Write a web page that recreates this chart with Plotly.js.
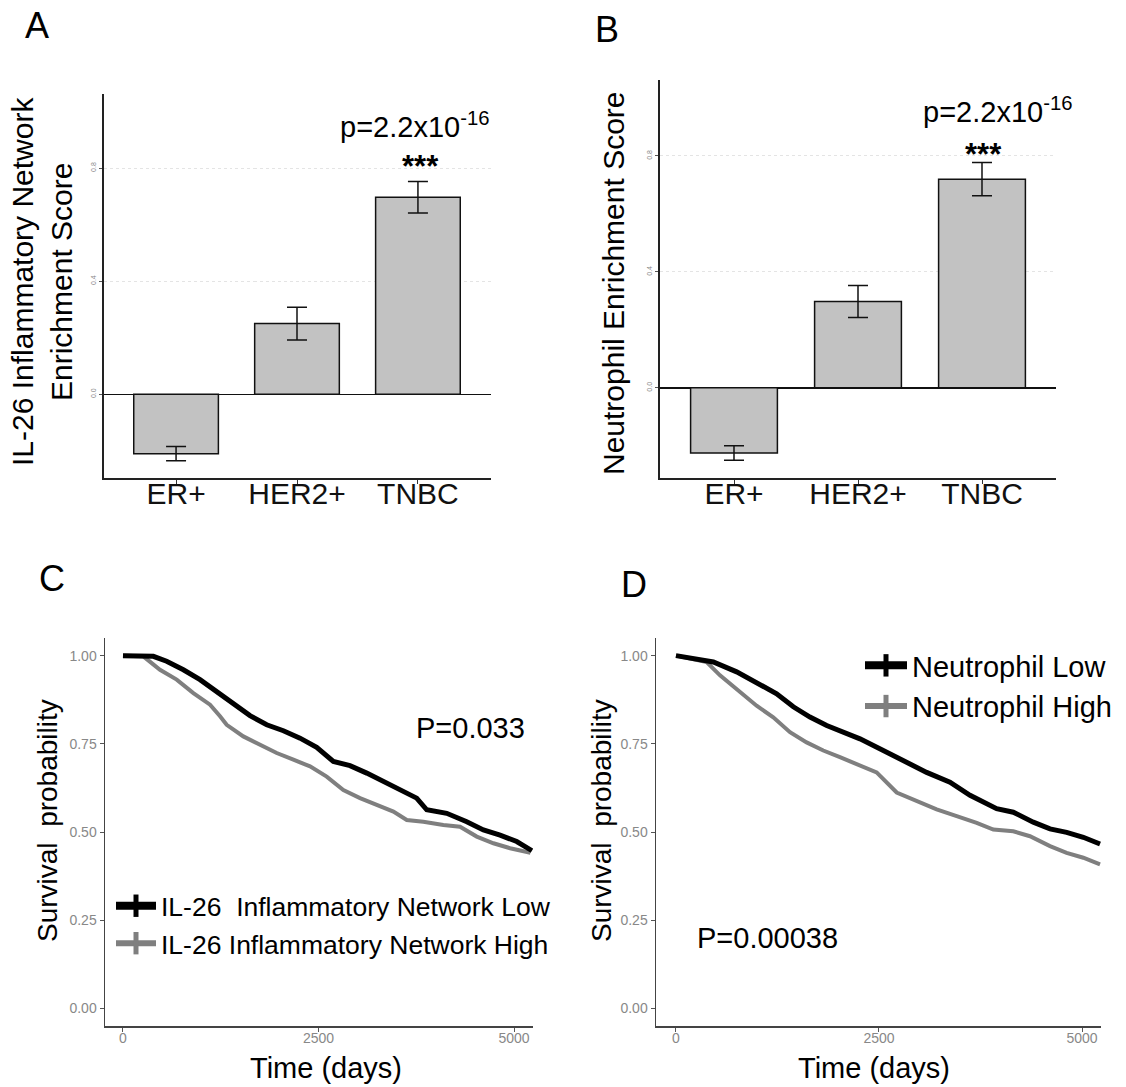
<!DOCTYPE html>
<html><head><meta charset="utf-8">
<script src="https://cdn.plot.ly/plotly-3.0.1.min.js"></script>
<style>html,body{margin:0;padding:0;background:#fff}#chart{width:1126px;height:1087px}</style>
</head><body><div id="chart"></div>
<script>
// ---- Data: panels A & B (bar charts) ----
const categories = ['ER+', 'HER2+', 'TNBC'];
const il26Score = [-0.21, 0.25, 0.697];
const il26Err = [0.025, 0.058, 0.056];
const neutroScore = [-0.225, 0.298, 0.72];
const neutroErr = [0.025, 0.055, 0.057];
const barTickVals = [0, 0.4, 0.8];
const barTickText = ['0.0', '0.4', '0.8'];

// ---- Data: panel C (IL-26 network survival) ----
const timeLowC = [0, 388, 558, 772, 985, 1198, 1411, 1624, 1838, 2051, 2264, 2477, 2690, 2903, 3117, 3330, 3543, 3756, 3884, 4140, 4396, 4609, 4822, 5035, 5230];
const survLowC = [1.0, 0.998, 0.984, 0.960, 0.932, 0.899, 0.866, 0.830, 0.804, 0.787, 0.766, 0.740, 0.700, 0.688, 0.667, 0.643, 0.621, 0.596, 0.563, 0.553, 0.529, 0.506, 0.491, 0.473, 0.447];
const timeHighC = [0, 260, 473, 687, 900, 1113, 1241, 1326, 1539, 1752, 1966, 2179, 2392, 2605, 2818, 3031, 3245, 3458, 3629, 3841, 4097, 4310, 4524, 4737, 4950, 5210];
const survHighC = [1.0, 0.998, 0.960, 0.932, 0.894, 0.861, 0.828, 0.804, 0.771, 0.747, 0.724, 0.705, 0.686, 0.657, 0.619, 0.596, 0.577, 0.558, 0.534, 0.529, 0.520, 0.515, 0.487, 0.468, 0.454, 0.441];

// ---- Data: panel D (Neutrophil survival) ----
const timeLowD = [0, 460, 747, 993, 1240, 1445, 1650, 1856, 2061, 2266, 2553, 2841, 3087, 3374, 3621, 3949, 4154, 4400, 4606, 4811, 5016, 5222];
const survLowD = [1.0, 0.982, 0.954, 0.925, 0.892, 0.855, 0.826, 0.802, 0.783, 0.764, 0.731, 0.698, 0.669, 0.641, 0.604, 0.566, 0.556, 0.528, 0.509, 0.499, 0.485, 0.466];
const timeHighD = [0, 378, 542, 788, 993, 1198, 1404, 1609, 1814, 2019, 2225, 2471, 2718, 2964, 3210, 3457, 3703, 3908, 4154, 4359, 4606, 4811, 5016, 5222];
const survHighD = [1.0, 0.982, 0.944, 0.897, 0.858, 0.825, 0.783, 0.754, 0.731, 0.712, 0.692, 0.669, 0.612, 0.588, 0.564, 0.545, 0.526, 0.507, 0.502, 0.488, 0.460, 0.441, 0.427, 0.408];

const survTickVals = [0, 0.25, 0.5, 0.75, 1.0];
const survTickText = ['0.00', '0.25', '0.50', '0.75', '1.00'];
const timeTickVals = [0, 2500, 5000];
const legendC = ['IL-26  Inflammatory Network Low', 'IL-26 Inflammatory Network High'];
const legendD = ['Neutrophil Low', 'Neutrophil High'];

// ---- Layout helpers (pixel -> paper) ----
const W = 1126, H = 1087;
const fx = v => v / W;
const fy = v => 1 - v / H;
const FONT = 'Liberation Sans, Arial, Helvetica, sans-serif';

function barTrace(vals, errs, xa, ya) {
  return {
    type: 'bar', x: categories, y: vals, width: 0.7,
    xaxis: xa, yaxis: ya, showlegend: false,
    marker: {color: '#c2c2c2', line: {color: '#111', width: 1.5}},
    error_y: {type: 'data', array: errs, visible: true, color: '#111', thickness: 1.5, width: 10}
  };
}
function curve(t, s, color, width, xa, ya) {
  return {type: 'scatter', mode: 'lines', x: t, y: s, xaxis: xa, yaxis: ya, showlegend: false,
    line: {color: color, width: width}, hoverinfo: 'skip'};
}
function legendItem(name, color, lw, leg) {
  return {type: 'scatter', mode: 'lines+markers', x: [null], y: [null], name: name, legend: leg,
    xaxis: leg === 'legend' ? 'x3' : 'x4', yaxis: leg === 'legend' ? 'y3' : 'y4',
    line: {color: color, width: lw},
    marker: {symbol: 'line-ns', size: 16, color: color, line: {color: color, width: 5}}};
}

const data = [
  barTrace(il26Score, il26Err, 'x', 'y'),
  barTrace(neutroScore, neutroErr, 'x2', 'y2'),
  curve(timeHighC, survHighC, '#7f7f7f', 4, 'x3', 'y3'),
  curve(timeLowC, survLowC, '#000', 5, 'x3', 'y3'),
  curve(timeHighD, survHighD, '#7f7f7f', 4, 'x4', 'y4'),
  curve(timeLowD, survLowD, '#000', 5, 'x4', 'y4'),
  legendItem(legendC[0], '#000', 8, 'legend'),
  legendItem(legendC[1], '#7f7f7f', 6, 'legend'),
  legendItem(legendD[0], '#000', 8, 'legend2'),
  legendItem(legendD[1], '#7f7f7f', 6, 'legend2')
];

function barX(d0, d1, anchor) {
  return {domain: [fx(d0), fx(d1)], anchor: anchor, type: 'category', range: [-0.6, 2.6],
    showline: true, linecolor: '#222', linewidth: 1.5, ticks: 'outside', ticklen: 4, tickcolor: '#333',
    ticklabelstandoff: -16,
    tickfont: {size: 30, color: '#111', family: FONT}, showgrid: false, zeroline: false, fixedrange: true};
}
function barY(t, b, range, anchor) {
  return {domain: [fy(b), fy(t)], anchor: anchor, range: range,
    tickvals: barTickVals, ticktext: barTickText, tickangle: -90,
    tickfont: {size: 7, color: '#888', family: FONT}, ticks: 'outside', ticklen: 3, tickcolor: '#555',
    showgrid: true, gridcolor: '#e4e4e4', griddash: 'dot', gridwidth: 1,
    zeroline: true, zerolinecolor: '#111', zerolinewidth: 1.5,
    showline: true, linecolor: '#222', linewidth: 1.5, fixedrange: true};
}
function survX(d0, d1, range, anchor) {
  return {domain: [fx(d0), fx(d1)], anchor: anchor, range: range, tickvals: timeTickVals,
    ticks: 'outside', ticklen: 4, tickcolor: '#555', tickfont: {size: 14, color: '#888', family: FONT},
    ticklabelstandoff: -5,
    showline: true, linecolor: '#444', linewidth: 1.5, showgrid: false, zeroline: false};
}
function survY(anchor) {
  return {domain: [fy(1026), fy(638)], anchor: anchor, range: [-0.05, 1.05],
    tickvals: survTickVals, ticktext: survTickText,
    ticks: 'outside', ticklen: 4, tickcolor: '#555', tickfont: {size: 14, color: '#888', family: FONT},
    showline: true, linecolor: '#444', linewidth: 1.5, showgrid: false, zeroline: false};
}

function ann(text, x, y, size, opts) {
  return Object.assign({text: text, x: fx(x), y: fy(y), xref: 'paper', yref: 'paper', showarrow: false,
    xanchor: 'center', yanchor: 'middle', font: {size: size, color: '#000', family: FONT}}, opts || {});
}

const layout = {
  width: W, height: H, margin: {l: 0, r: 0, t: 0, b: 0},
  paper_bgcolor: '#fff', plot_bgcolor: 'rgba(0,0,0,0)',
  font: {family: FONT, color: '#000'},
  showlegend: true, bargap: 0.3,
  xaxis: barX(103.5, 490.5, 'y'),
  yaxis: barY(94, 478, [-0.296, 1.062], 'x'),
  xaxis2: barX(659.6, 1056.4, 'y2'),
  yaxis2: barY(80, 478, [-0.311, 1.062], 'x2'),
  xaxis3: survX(105, 533, [-230, 5243], 'y3'),
  yaxis3: survY('x3'),
  xaxis4: survX(656, 1101, [-246, 5234], 'y4'),
  yaxis4: survY('x4'),
  legend: {x: fx(111), xanchor: 'left', y: fy(924.5), yanchor: 'middle', bgcolor: 'rgba(0,0,0,0)',
    font: {size: 26.5, color: '#000', family: FONT}, itemwidth: 40, tracegroupgap: 0},
  legend2: {x: fx(860), xanchor: 'left', y: fy(686), yanchor: 'middle', bgcolor: 'rgba(0,0,0,0)',
    font: {size: 29, color: '#000', family: FONT}, itemwidth: 42, tracegroupgap: 0},
  annotations: [
    ann('A', 37, 26, 36),
    ann('B', 607, 29, 36),
    ann('C', 52, 578, 36),
    ann('D', 634, 584, 36),
    ann('IL-26 Inflammatory Network<br>Enrichment Score', 42, 282, 30, {textangle: -90}),
    ann('Neutrophil Enrichment Score', 613, 283, 30, {textangle: -90}),
    ann('p=2.2x10<sup>-16</sup>', 338, 125, 29, {xanchor: 'left'}),
    ann('<b>***</b>', 420, 166, 31),
    ann('p=2.2x10<sup>-16</sup>', 921, 110, 29, {xanchor: 'left'}),
    ann('<b>***</b>', 983, 154, 31),
    ann('Survival  probability', 47, 821, 28, {textangle: -90}),
    ann('Survival  probability', 601, 821, 28, {textangle: -90}),
    ann('Time (days)', 326, 1068, 29),
    ann('Time (days)', 874, 1068, 29),
    ann('P=0.033', 470, 728, 29),
    ann('P=0.00038', 767, 938, 29)
  ]
};

Plotly.newPlot('chart', data, layout, {displayModeBar: false, staticPlot: true});
</script>
</body></html>
